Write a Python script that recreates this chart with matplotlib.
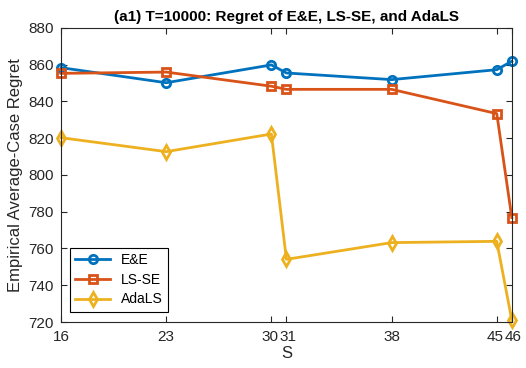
import numpy as np
import matplotlib
matplotlib.use('Agg')
import matplotlib.pyplot as plt
from matplotlib.transforms import ScaledTranslation

plt.rcParams['font.family'] = ['Liberation Sans', 'DejaVu Sans']

S = [16, 23, 30, 31, 38, 45, 46]
ee = [858.4, 850.2, 859.9, 855.5, 851.9, 857.3, 861.9]
lsse = [855.3, 856.0, 848.3, 846.6, 846.6, 833.4, 776.8]
adals = [820.3, 812.7, 822.3, 754.1, 763.2, 763.9, 721.0]
xlabels = ['16', '23', '30', '31', '38', '45', '46']

gray = (0.15, 0.15, 0.15)
fig = plt.figure(figsize=(5.26, 3.68), dpi=100)
ax = fig.add_axes([0.116, 0.125, 0.857, 0.799])

ax.plot(S, ee, '-o', color=(0, 0.447, 0.741), lw=2, ms=6, mew=2, mfc='none', label='E&E', clip_on=False)
ax.plot(S, lsse, '-s', color=(0.850, 0.325, 0.098), lw=2, ms=6, mew=2, mfc='none', label='LS-SE', clip_on=False)
ax.plot(S, adals, '-d', color=(0.929, 0.694, 0.125), lw=2, ms=7, mew=2, mfc='none', label='AdaLS', clip_on=False)

ax.set_xlim(16, 46)
ax.set_ylim(720, 880)
ax.set_xticks(S)
ax.set_xticklabels(xlabels)
ax.set_yticks(np.arange(720, 881, 20))
ax.tick_params(direction='in', top=True, right=True, labelsize=11, colors=gray, length=4)
ax.tick_params(axis='x', pad=6)
ax.tick_params(axis='y', pad=5)
for sp in ax.spines.values():
    sp.set_color(gray)

# nudge the close tick labels apart a little
for lab in ax.get_xticklabels():
    t = lab.get_text()
    if t in ('30', '45'):
        lab.set_transform(lab.get_transform() + ScaledTranslation(-1.2 / 72, 0, fig.dpi_scale_trans))
    elif t in ('31', '46'):
        lab.set_transform(lab.get_transform() + ScaledTranslation(1.2 / 72, 0, fig.dpi_scale_trans))

ax.set_xlabel('S', fontsize=12, color=gray, labelpad=1)
ax.set_ylabel('Empirical Average-Case Regret', fontsize=12, color=gray, labelpad=4)
ax.set_title('(a1) T=10000: Regret of E&E, LS-SE, and AdaLS', fontsize=11, fontweight='bold', pad=5)

leg = ax.legend(loc='lower left', fancybox=False, edgecolor='black', framealpha=1, fontsize=10, handlelength=2.5,
                bbox_to_anchor=(0.01, 0.02), borderaxespad=0.3, labelspacing=0.4)
leg.get_frame().set_linewidth(0.8)

fig.savefig('out.png', dpi=100)
